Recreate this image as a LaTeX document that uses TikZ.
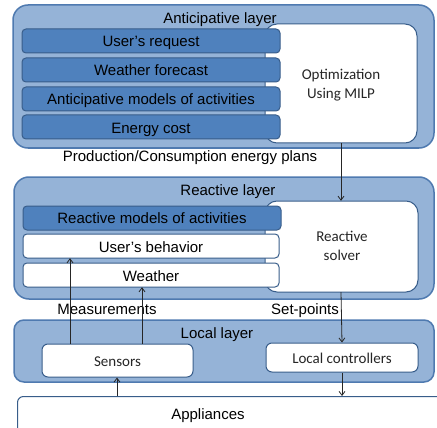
\documentclass[tikz,border=0pt]{standalone}
\usepackage{fontspec}
\setmainfont{Liberation Sans}
\newfontfamily\calib{Carlito}
\usetikzlibrary{arrows.meta}
\definecolor{layerfill}{HTML}{95B3D7}
\definecolor{layerline}{HTML}{4F7AB0}
\definecolor{barfill}{HTML}{4F81BD}
\definecolor{barline}{HTML}{385D8A}
\tikzset{
  layer/.style={draw=layerline, fill=layerfill, line width=1.5pt, rounded corners=15pt},
  solverbox/.style={draw=barline, fill=white, line width=1pt, rounded corners=12pt},
  darkbar/.style={draw=barline, fill=barfill, line width=1pt, rounded corners=4pt},
  whitebar/.style={draw=barline, fill=white, line width=1pt, rounded corners=4pt},
  txt/.style={font=\fontsize{15}{18}\selectfont, text=black, inner sep=0pt, anchor=base},
  ctxt/.style={font=\calib\fontsize{15}{18}\selectfont, text=black!85, inner sep=0pt, anchor=base},
  arr/.style={draw=black!85, line width=0.8pt, -{Straight Barb[length=4pt,width=6pt]}}
}
\begin{document}
\begin{tikzpicture}[x=1pt,y=-1pt]
\useasboundingbox (0,0) rectangle (437,428);
% Anticipative layer
\draw[layer] (13,5) rectangle (434,148);
\node[txt] (antt) at (220,24) {Anticipative layer};
\draw[solverbox] (265,24) rectangle (417,143);
\node (opt) at (341,83.5) [minimum width=152pt, minimum height=119pt, inner sep=0pt] {};
\node[ctxt] (optt1) at (341,80) {Optimization};
\node[ctxt] (optt2) at (341,98.3) {Using MILP};
\draw[darkbar] (22,29) rectangle (280,53);
\node[txt] (b1) at (151,46.7) {User’s request};
\draw[darkbar] (22,58) rectangle (280,82);
\node[txt] (b2) at (151,76) {Weather forecast};
\draw[darkbar] (22,87) rectangle (280,111);
\node[txt] (b3) at (151,104.5) {Anticipative models of activities};
\draw[darkbar] (22,115) rectangle (280,139);
\node[txt] (b4) at (151,133.3) {Energy cost};
\node[txt] (pc) at (190,161) {Production/Consumption energy plans};
% Reactive layer
\draw[layer] (14,177) rectangle (434,299);
\node[txt] (reat) at (228,195) {Reactive layer};
\draw[solverbox] (265,201) rectangle (418,292);
\node (sol) at (341,246.5) [minimum width=153pt, minimum height=91pt, inner sep=0pt] {};
\node[ctxt] (solt1) at (342,241.7) {Reactive};
\node[ctxt] (solt2) at (342,260) {solver};
\draw[darkbar] (23,206) rectangle (281,230);
\node[txt] (rm) at (152,223.3) {Reactive models of activities};
\draw[whitebar] (23,234) rectangle (279,258);
\node (ub) at (151,246) [minimum width=256pt, minimum height=24pt, inner sep=0pt] {};
\node[txt] (ubt) at (151,252.3) {User’s behavior};
\draw[whitebar] (23,263) rectangle (279,287);
\node (we) at (151,275) [minimum width=256pt, minimum height=24pt, inner sep=0pt] {};
\node[txt] (wet) at (151,281) {Weather};
\node[txt] (meas) at (107,314) {Measurements};
\node[txt] (setp) at (305,314) {Set-points};
% Local layer
\draw[layer, rounded corners=10pt] (14,320) rectangle (434,382);
\node[txt] (loct) at (217,338.3) {Local layer};
\node[whitebar, rounded corners=6pt, minimum width=151pt, minimum height=33pt, inner sep=0pt] (sens) at (117.5,360.5) {};
\node[ctxt] (senst) at (117.5,366) {Sensors};
\node[whitebar, rounded corners=6pt, minimum width=152pt, minimum height=29pt, inner sep=0pt] (lc) at (342,357.5) {};
\node[ctxt] (lct) at (342,363.3) {Local controllers};
% Appliances
\node[whitebar, rounded corners=6pt, minimum width=428pt, minimum height=44pt, inner sep=0pt, anchor=north west] (app) at (17,396) {};
\node[txt] (appt) at (208,419.3) {Appliances};
% arrows
\coordinate (xa) at (70,0);
\coordinate (xb) at (142,0);
\coordinate (xc) at (117,0);
\draw[arr] (opt.south) -- (sol.north);
\draw[arr] (sol.south) -- (lc.north);
\draw[arr] (sens.north -| xa) -- (ub.south -| xa);
\draw[arr] (sens.north -| xb) -- (we.south -| xb);
\draw[arr] (app.north -| xc) -- (sens.south -| xc);
\draw[arr] (lc.south) -- (lc.south |- app.north);
\end{tikzpicture}
\end{document}
